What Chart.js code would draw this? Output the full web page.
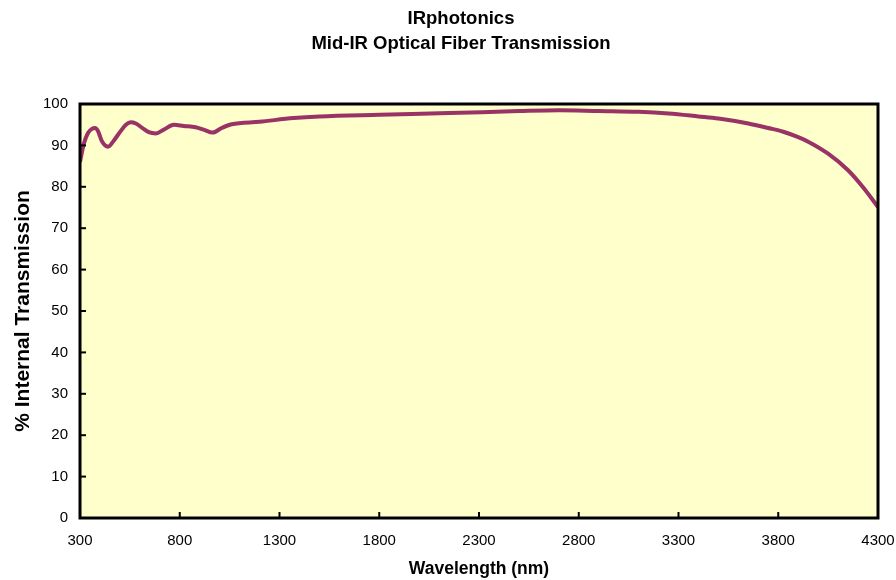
<!DOCTYPE html>
<html>
<head>
<meta charset="utf-8">
<title>Mid-IR Optical Fiber Transmission</title>
<script src="https://cdn.jsdelivr.net/npm/chart.js@4.4.0/dist/chart.umd.min.js"></script>
<style>
  html, body { margin: 0; padding: 0; background: #fff; }
  canvas { display: block; }
</style>
</head>
<body>
<canvas id="fiberChart" width="896" height="580"></canvas>
<script>
// Data
const wavelengths = [300, 320, 340, 360, 375, 390, 410, 440, 470, 500, 530, 555, 580, 610, 645, 680, 720, 770, 820, 880, 920, 965, 1010, 1060, 1200, 1370, 1500, 1800, 2150, 2500, 2700, 2900, 3100, 3250, 3400, 3500, 3650, 3750, 3825, 3900, 3950, 4050, 4150, 4230, 4300];
const transmission = [86.0, 90.5, 93.0, 94.0, 94.2, 93.5, 91.0, 89.7, 91.2, 93.2, 95.0, 95.6, 95.3, 94.3, 93.2, 92.9, 93.8, 95.0, 94.7, 94.4, 93.8, 93.1, 94.2, 95.1, 95.7, 96.6, 97.0, 97.4, 97.8, 98.3, 98.5, 98.3, 98.1, 97.7, 97.0, 96.5, 95.3, 94.2, 93.3, 92.0, 90.9, 88.0, 84.0, 79.6, 75.1];
const xTicks = [300, 800, 1300, 1800, 2300, 2800, 3300, 3800, 4300];
const yTicks = [0, 10, 20, 30, 40, 50, 60, 70, 80, 90, 100];
const titleLines = ['IRphotonics', 'Mid-IR Optical Fiber Transmission'];

const FONT = "'Liberation Sans', Arial, Helvetica, sans-serif";

// Yellow plot background, black frame and inside tick marks
const plotFrame = {
  id: 'plotFrame',
  beforeDatasetsDraw(chart) {
    const { ctx, chartArea: a } = chart;
    ctx.save();
    ctx.fillStyle = '#FFFFCC';
    ctx.fillRect(a.left, a.top, a.right - a.left, a.bottom - a.top);
    ctx.restore();
  },
  afterDatasetsDraw(chart) {
    const { ctx, chartArea: a, scales } = chart;
    ctx.save();
    ctx.strokeStyle = '#000';
    ctx.lineWidth = 2;
    scales.x.ticks.forEach(t => {
      const px = scales.x.getPixelForValue(t.value);
      ctx.beginPath();
      ctx.moveTo(px, a.bottom);
      ctx.lineTo(px, a.bottom - 6);
      ctx.stroke();
    });
    scales.y.ticks.forEach(t => {
      const py = scales.y.getPixelForValue(t.value);
      ctx.beginPath();
      ctx.moveTo(a.left, py);
      ctx.lineTo(a.left + 6, py);
      ctx.stroke();
    });
    ctx.lineWidth = 3;
    ctx.strokeRect(a.left, a.top, a.right - a.left, a.bottom - a.top);
    ctx.restore();
  }
};

// Two-line title, centred like the original
const twoLineTitle = {
  id: 'twoLineTitle',
  afterDraw(chart) {
    const { ctx } = chart;
    ctx.save();
    ctx.fillStyle = '#000';
    ctx.font = 'bold 18.5px ' + FONT;
    ctx.textAlign = 'center';
    ctx.textBaseline = 'middle';
    titleLines.forEach((line, i) => ctx.fillText(line, 461, 19 + i * 25));
    ctx.restore();
  }
};

const ctx = document.getElementById('fiberChart').getContext('2d');
new Chart(ctx, {
  type: 'line',
  data: {
    datasets: [{
      label: 'Transmission',
      data: wavelengths.map((w, i) => ({ x: w, y: transmission[i] })),
      borderColor: '#993366',
      borderWidth: 4,
      pointRadius: 0,
      fill: false,
      cubicInterpolationMode: 'monotone'
    }]
  },
  options: {
    responsive: false,
    animation: false,
    layout: { padding: { top: 104, right: 0, left: 0, bottom: 0 } },
    plugins: {
      legend: { display: false },
      title: { display: false },
      tooltip: { enabled: false }
    },
    scales: {
      x: {
        type: 'linear',
        min: 300,
        max: 4300,
        afterBuildTicks: scale => { scale.ticks = xTicks.map(v => ({ value: v })); },
        afterFit: scale => {
          scale.height = 62;
          scale.paddingLeft = 0;
          scale.paddingRight = 18;
        },
        grid: { display: false, drawTicks: false },
        border: { display: false },
        ticks: {
          color: '#000',
          font: { family: FONT, size: 15 },
          padding: 14,
          maxRotation: 0,
          autoSkip: false,
          callback: v => String(v)
        },
        title: {
          display: true,
          text: 'Wavelength (nm)',
          color: '#000',
          font: { family: FONT, size: 17.5, weight: 'bold' },
          padding: { top: 0, bottom: 0 }
        }
      },
      y: {
        min: 0,
        max: 100,
        afterBuildTicks: scale => { scale.ticks = yTicks.map(v => ({ value: v })); },
        afterFit: scale => { scale.width = 80; },
        grid: { display: false, drawTicks: false },
        border: { display: false },
        ticks: {
          color: '#000',
          font: { family: FONT, size: 15 },
          padding: 12,
          callback: v => String(v)
        },
        title: {
          display: true,
          text: '% Internal Transmission',
          color: '#000',
          font: { family: FONT, size: 21, weight: 'bold' },
          padding: { top: 11, bottom: 0 }
        }
      }
    }
  },
  plugins: [plotFrame, twoLineTitle]
});
</script>
</body>
</html>
